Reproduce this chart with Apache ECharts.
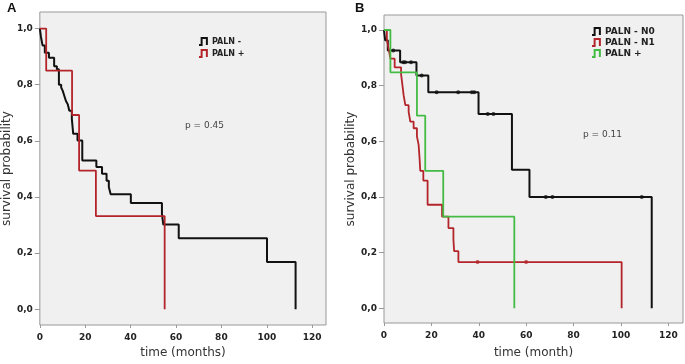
<!DOCTYPE html>
<html>
<head>
<meta charset="utf-8">
<script src="https://cdn.jsdelivr.net/npm/echarts@6/dist/echarts.min.js"></script>
<style>html,body{margin:0;padding:0;background:#fff;}#c{width:685px;height:364px;}</style>
</head>
<body>
<div id="c"></div>
<script>
// ---- Data ----
var xTicks = [0, 20, 40, 60, 80, 100, 120];
var yTicks = [0, 0.2, 0.4, 0.6, 0.8, 1.0];

// Panel A
var aNegT = [0, 0.5, 1.2, 2.2, 4.0, 6.3, 7.5, 8.4, 9.4, 10.1, 10.8, 11.5, 12.3, 13.0, 14.1, 14.7, 16.6, 18.7, 24.9, 27.4, 29.4, 30.4, 31.2, 40.1, 53.8, 54.4, 61.2, 100.1, 112.7];
var aNegS = [1, 0.97, 0.94, 0.914, 0.896, 0.866, 0.855, 0.80, 0.79, 0.778, 0.76, 0.742, 0.73, 0.707, 0.678, 0.625, 0.601, 0.53, 0.507, 0.483, 0.458, 0.436, 0.41, 0.379, 0.341, 0.302, 0.253, 0.168, 0];
var aPosT = [0, 2.8, 14.2, 17.3, 24.7, 55];
var aPosS = [1, 0.85, 0.692, 0.494, 0.332, 0];

// Panel B
var bN0T = [0, 0.5, 1.6, 6.8, 13.7, 18.7, 39.9, 54.0, 61.4, 113];
var bN0S = [1, 0.963, 0.926, 0.884, 0.837, 0.776, 0.698, 0.498, 0.40, 0];
var bN0CensT = [3.9, 8.1, 8.9, 11.4, 15.9, 22.2, 31.3, 37.1, 38.1, 43.8, 46.2, 68.3, 71.1, 108.8];
var bN0CensS = [0.926, 0.884, 0.884, 0.884, 0.837, 0.776, 0.776, 0.776, 0.776, 0.698, 0.698, 0.40, 0.40, 0.40];
var bN1T = [0, 1.2, 2.0, 2.7, 4.5, 7.2, 7.8, 8.3, 9.0, 10.4, 11.1, 12.5, 13.9, 14.6, 15.0, 15.3, 16.6, 18.4, 24.5, 27.2, 29.3, 29.6, 31.4, 100.3];
var bN1S = [1, 0.966, 0.931, 0.897, 0.866, 0.842, 0.80, 0.765, 0.73, 0.706, 0.671, 0.647, 0.618, 0.588, 0.541, 0.494, 0.459, 0.372, 0.329, 0.288, 0.247, 0.205, 0.166, 0];
var bN1CensT = [39.5, 60];
var bN1CensS = [0.166, 0.166];
var bPosT = [0, 2.7, 13.9, 17.4, 25.0, 55];
var bPosS = [1, 0.848, 0.692, 0.494, 0.329, 0];

function zip(t, s) { return t.map(function (v, i) { return [v, s[i]]; }); }

var FONT = 'DejaVu Sans';
var BLACK = '#111111', RED = '#b3252a', GREEN = '#44bb44';

function xAxis(idx, max, name, gap) {
  return {
    type: 'value', gridIndex: idx, min: 0, max: max,
    name: name, nameLocation: 'middle', nameGap: gap,
    nameTextStyle: { fontFamily: FONT, fontSize: 12, color: '#333' },
    axisLine: { show: false, onZero: false },
    axisTick: { show: true, length: 3, lineStyle: { color: '#999' }, customValues: xTicks },
    axisLabel: { customValues: xTicks, fontFamily: FONT, fontWeight: 'bold', fontSize: 9, color: '#222', margin: 8 },
    splitLine: { show: false }
  };
}
function yAxis(idx, min, max, gap) {
  return {
    type: 'value', gridIndex: idx, min: min, max: max,
    name: 'survival probability', nameLocation: 'middle', nameGap: gap,
    nameTextStyle: { fontFamily: FONT, fontSize: 12, color: '#333' },
    axisLine: { show: false, onZero: false },
    axisTick: { show: true, length: 5, lineStyle: { color: '#999' }, customValues: yTicks },
    axisLabel: { customValues: yTicks, fontFamily: FONT, fontWeight: 'bold', fontSize: 9, color: '#222', margin: 7,
      formatter: function (v) { return v.toFixed(1).replace('.', ','); } },
    splitLine: { show: false }
  };
}
function step(name, xi, data, color, w) {
  return { name: name, type: 'line', step: 'end', xAxisIndex: xi, yAxisIndex: xi, data: data,
    showSymbol: false, symbol: 'none', lineStyle: { color: color, width: w }, itemStyle: { color: color },
    animation: false, silent: true };
}
function cens(xi, data, color) {
  return { type: 'scatter', xAxisIndex: xi, yAxisIndex: xi, data: data, symbol: 'circle', symbolSize: 4,
    itemStyle: { color: color }, animation: false, silent: true };
}
function legItem(name, color) {
  return { name: name, icon: 'path://M0,9 L3,9 L3,1 L9,1 L9,9',
    itemStyle: { color: 'rgba(0,0,0,0)', borderColor: color, borderWidth: 2 } };
}

var chart = echarts.init(document.getElementById('c'));
chart.setOption({
  animation: false,
  grid: [
    { left: 35, right: 359, top: 12, bottom: 37, show: true, backgroundColor: '#f0f0f0', borderColor: '#999', borderWidth: 1 },
    { left: 384, right: 2, top: 15, bottom: 36, show: true, backgroundColor: '#f0f0f0', borderColor: '#999', borderWidth: 1 }
  ],
  xAxis: [xAxis(0, 126.1, 'time (months)', 22), xAxis(1, 126.2, 'time (month)', 24)],
  yAxis: [yAxis(0, -0.056, 1.059, 25), yAxis(1, -0.053, 1.054, 26)],
  legend: [
    { data: [legItem('PALN -', BLACK), legItem('PALN +', RED)], left: 198, top: 37, orient: 'vertical', itemWidth: 8, itemHeight: 7, itemGap: 3,
      textStyle: { fontFamily: FONT, fontWeight: 'bold', fontSize: 8, color: '#222', lineHeight: 8 }, padding: 0, selectedMode: false },
    { data: [legItem('PALN - N0', BLACK), legItem('PALN - N1', RED), legItem('PALN +  ', GREEN)], left: 591, top: 27, orient: 'vertical', itemWidth: 8, itemHeight: 7, itemGap: 2,
      textStyle: { fontFamily: FONT, fontWeight: 'bold', fontSize: 9, color: '#222', lineHeight: 9 }, padding: 0, selectedMode: false }
  ],
  series: [
    step('PALN -', 0, zip(aNegT, aNegS), BLACK, 2),
    step('PALN +', 0, zip(aPosT, aPosS), RED, 1.8),
    step('PALN - N0', 1, zip(bN0T, bN0S), BLACK, 2),
    step('PALN - N1', 1, zip(bN1T, bN1S), RED, 1.8),
    step('PALN +  ', 1, zip(bPosT, bPosS), GREEN, 1.8),
    cens(1, zip(bN0CensT, bN0CensS), BLACK),
    cens(1, zip(bN1CensT, bN1CensS), RED)
  ],
  graphic: [
    { type: 'text', left: 7, top: 2, style: { text: 'A', fontFamily: 'Liberation Sans', fontWeight: 'bold', fontSize: 13, fill: '#111' } },
    { type: 'text', left: 355, top: 2, style: { text: 'B', fontFamily: 'Liberation Sans', fontWeight: 'bold', fontSize: 13, fill: '#111' } },
    { type: 'text', left: 185, top: 121, style: { text: 'p = 0.45', fontFamily: FONT, fontSize: 9, fill: '#444' } },
    { type: 'text', left: 583, top: 130, style: { text: 'p = 0.11', fontFamily: FONT, fontSize: 9, fill: '#444' } }
  ]
});
</script>
</body>
</html>
